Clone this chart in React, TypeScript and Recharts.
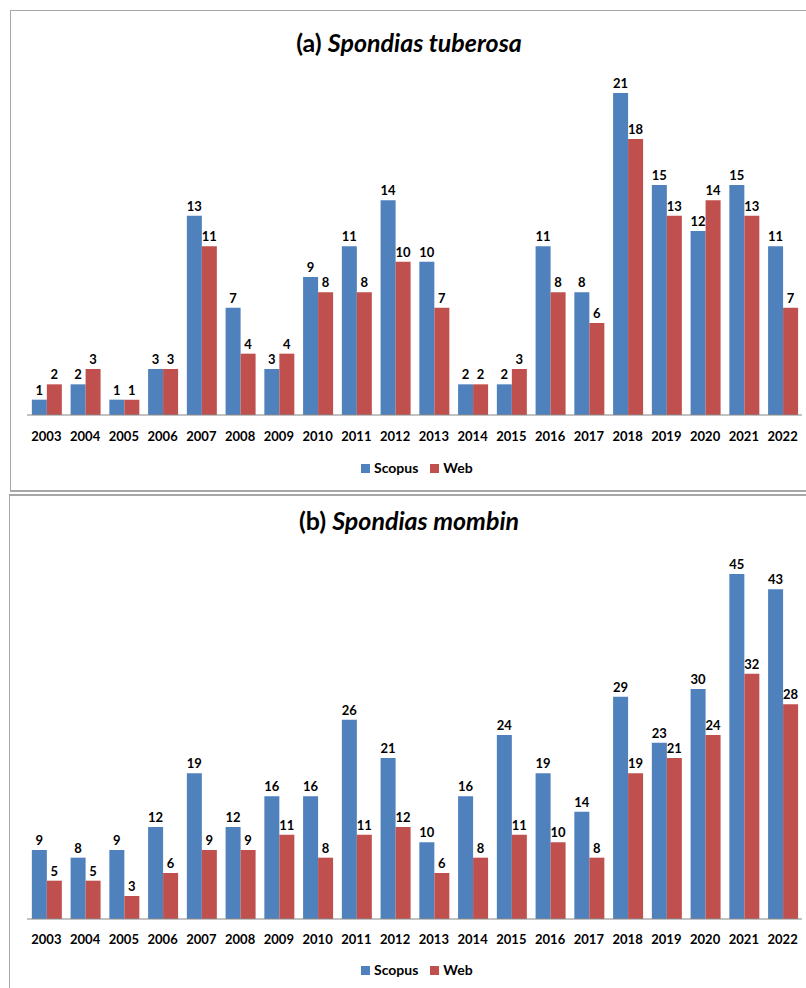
import React from 'react';
import { BarChart, Bar, XAxis, YAxis, LabelList } from 'recharts';

const years = ['2003', '2004', '2005', '2006', '2007', '2008', '2009', '2010', '2011', '2012',
    '2013', '2014', '2015', '2016', '2017', '2018', '2019', '2020', '2021', '2022'];

const tuberosaScopus = [1, 2, 1, 3, 13, 7, 3, 9, 11, 14, 10, 2, 2, 11, 8, 21, 15, 12, 15, 11];
const tuberosaWeb = [2, 3, 1, 3, 11, 4, 4, 8, 8, 10, 7, 2, 3, 8, 6, 18, 13, 14, 13, 7];

const mombinScopus = [9, 8, 9, 12, 19, 12, 16, 16, 26, 21, 10, 16, 24, 19, 14, 29, 23, 30, 45, 43];
const mombinWeb = [5, 5, 3, 6, 9, 9, 11, 8, 11, 12, 6, 8, 11, 10, 8, 19, 21, 24, 32, 28];

const BLUE = '#4f81bd';
const RED = '#c0504d';
const FONT = 'Lato, "Noto Sans", sans-serif';

const toRows = (scopus: number[], web: number[]) =>
    years.map((year, i) => ({ year, scopus: scopus[i], web: web[i] }));

interface PanelProps {
    label: string;
    species: string;
    scopus: number[];
    web: number[];
    top: number;
    height: number;
    yMax: number;
    plotTop: number;
    plotBottom: number;
    tickMargin: number;
    titleY: number;
    legendY: number;
}

function Panel(p: PanelProps) {
    const data = toRows(p.scopus, p.web);
    const labelStyle = { fill: '#000', fontSize: 13, fontWeight: 700, fontFamily: FONT };
    return (
        <div style={{ position: 'absolute', left: 0, top: p.top, width: 806, height: p.height }}>
            <div style={{
                position: 'absolute', left: 0, right: 0, top: p.titleY - 15, textAlign: 'center',
                fontFamily: FONT, fontWeight: 700, fontSize: 25, lineHeight: '30px', color: '#000',
                paddingLeft: 12,
            }}>
                {p.label} <i>{p.species}</i>
            </div>
            <div style={{ position: 'absolute', left: 0, top: 0 }}>
                <BarChart
                    width={806}
                    height={p.height}
                    data={data}
                    margin={{ top: p.plotTop, right: 4, left: 27, bottom: p.height - p.plotBottom - 30 }}
                    barCategoryGap="12.5%"
                    barGap={0}
                >
                    <XAxis
                        dataKey="year"
                        axisLine={{ stroke: '#868686' }}
                        tickLine={false}
                        tickSize={6}
                        tickMargin={p.tickMargin}
                        interval={0}
                        tick={{ fill: '#000', fontSize: 13, fontWeight: 700, fontFamily: FONT }}
                    />
                    <YAxis hide domain={[0, p.yMax]} />
                    <Bar dataKey="scopus" name="Scopus" fill={BLUE} isAnimationActive={false}>
                        <LabelList dataKey="scopus" position="top" offset={5} style={labelStyle} />
                    </Bar>
                    <Bar dataKey="web" name="Web" fill={RED} isAnimationActive={false}>
                        <LabelList dataKey="web" position="top" offset={5} style={labelStyle} />
                    </Bar>
                </BarChart>
            </div>
            <div style={{
                position: 'absolute', left: 361, top: p.legendY - 9, display: 'flex', alignItems: 'center',
                fontFamily: FONT, fontWeight: 700, fontSize: 14, color: '#000', lineHeight: '18px',
            }}>
                <span style={{ width: 9, height: 9, background: BLUE, display: 'inline-block', marginRight: 4 }} />
                <span style={{ marginRight: 12 }}>Scopus</span>
                <span style={{ width: 9, height: 9, background: RED, display: 'inline-block', marginRight: 4 }} />
                <span>Web</span>
            </div>
        </div>
    );
}

export default function App() {
    return (
        <div style={{ position: 'absolute', left: 0, top: 0, width: 806, height: 988, overflow: 'hidden', background: '#fff' }}>
            <div style={{
                position: 'absolute', left: 10, top: 10, width: 820, height: 479,
                border: '1px solid #a6a6a6', borderBottomWidth: 2,
            }} />
            <div style={{
                position: 'absolute', left: 9, top: 494, width: 820, height: 520,
                border: '1px solid #a6a6a6', borderTopWidth: 2,
            }} />
            <Panel
                label="(a)"
                species="Spondias tuberosa"
                scopus={tuberosaScopus}
                web={tuberosaWeb}
                top={0}
                height={490}
                yMax={22}
                plotTop={415 - 22 * (322 / 21)}
                plotBottom={415}
                tickMargin={11}
                titleY={42}
                legendY={468}
            />
            <Panel
                label="(b)"
                species="Spondias mombin"
                scopus={mombinScopus}
                web={mombinWeb}
                top={494}
                height={494}
                yMax={48}
                plotTop={425 - 48 * (345 / 45)}
                plotBottom={425}
                tickMargin={10}
                titleY={26}
                legendY={476}
            />
        </div>
    );
}
